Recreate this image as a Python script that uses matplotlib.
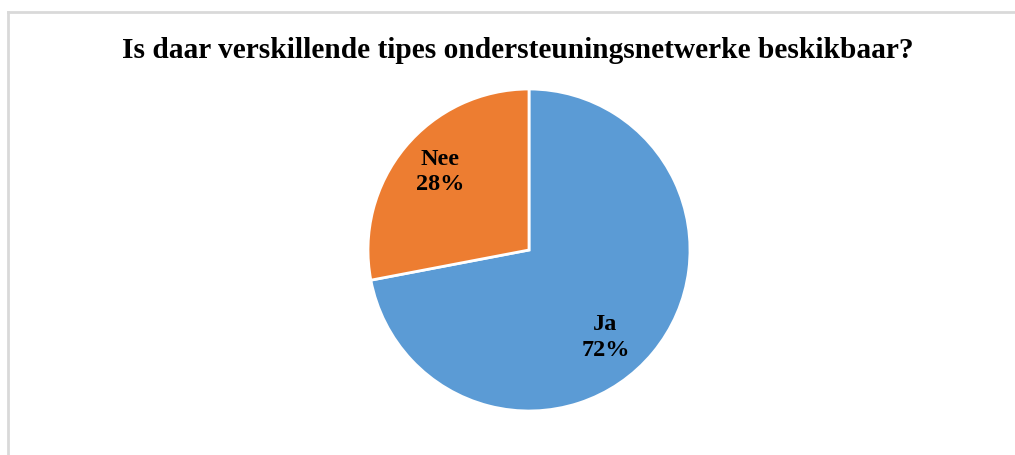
import matplotlib.pyplot as plt
from matplotlib.lines import Line2D

title = "Is daar verskillende tipes ondersteuningsnetwerke beskikbaar?"
categories = ["Ja", "Nee"]
shares = [72, 28]
colors = ["#5B9BD5", "#ED7D31"]
label_pos = [(0.475, -0.545), (-0.553, 0.484)]

W, H = 1015, 455
fig = plt.figure(figsize=(W / 100, H / 100), dpi=100)
plt.rcParams['font.family'] = ['Liberation Serif', 'DejaVu Serif']

# light frame (top and left edges only visible)
fig.add_artist(Line2D([7.5 / W, 7.5 / W], [0, 1 - 12 / H], color="#d9d9d9",
                      lw=2, transform=fig.transFigure))
fig.add_artist(Line2D([7.5 / W, 1], [1 - 12 / H, 1 - 12 / H], color="#d9d9d9",
                      lw=2, transform=fig.transFigure))

fig.text(518 / W, 1 - 51 / H, title, ha="center", va="center",
         fontsize=21.2, fontweight="bold")

cx, cy, r = 529, 250, 161
ax = fig.add_axes([(cx - r) / W, (H - cy - r) / H, 2 * r / W, 2 * r / H])
ax.pie(shares, colors=colors, startangle=90, counterclock=False,
       wedgeprops=dict(edgecolor="white", linewidth=2), radius=1)
ax.set_xlim(-1, 1)
ax.set_ylim(-1, 1)
ax.set_aspect("equal")
ax.axis("off")

for cat, val, (x, y) in zip(categories, shares, label_pos):
    ax.text(x, y, f"{cat}\n{val}%", ha="center", va="center",
            fontsize=17.5, fontweight="bold", linespacing=1.3)

fig.savefig("out.png", dpi=100)
